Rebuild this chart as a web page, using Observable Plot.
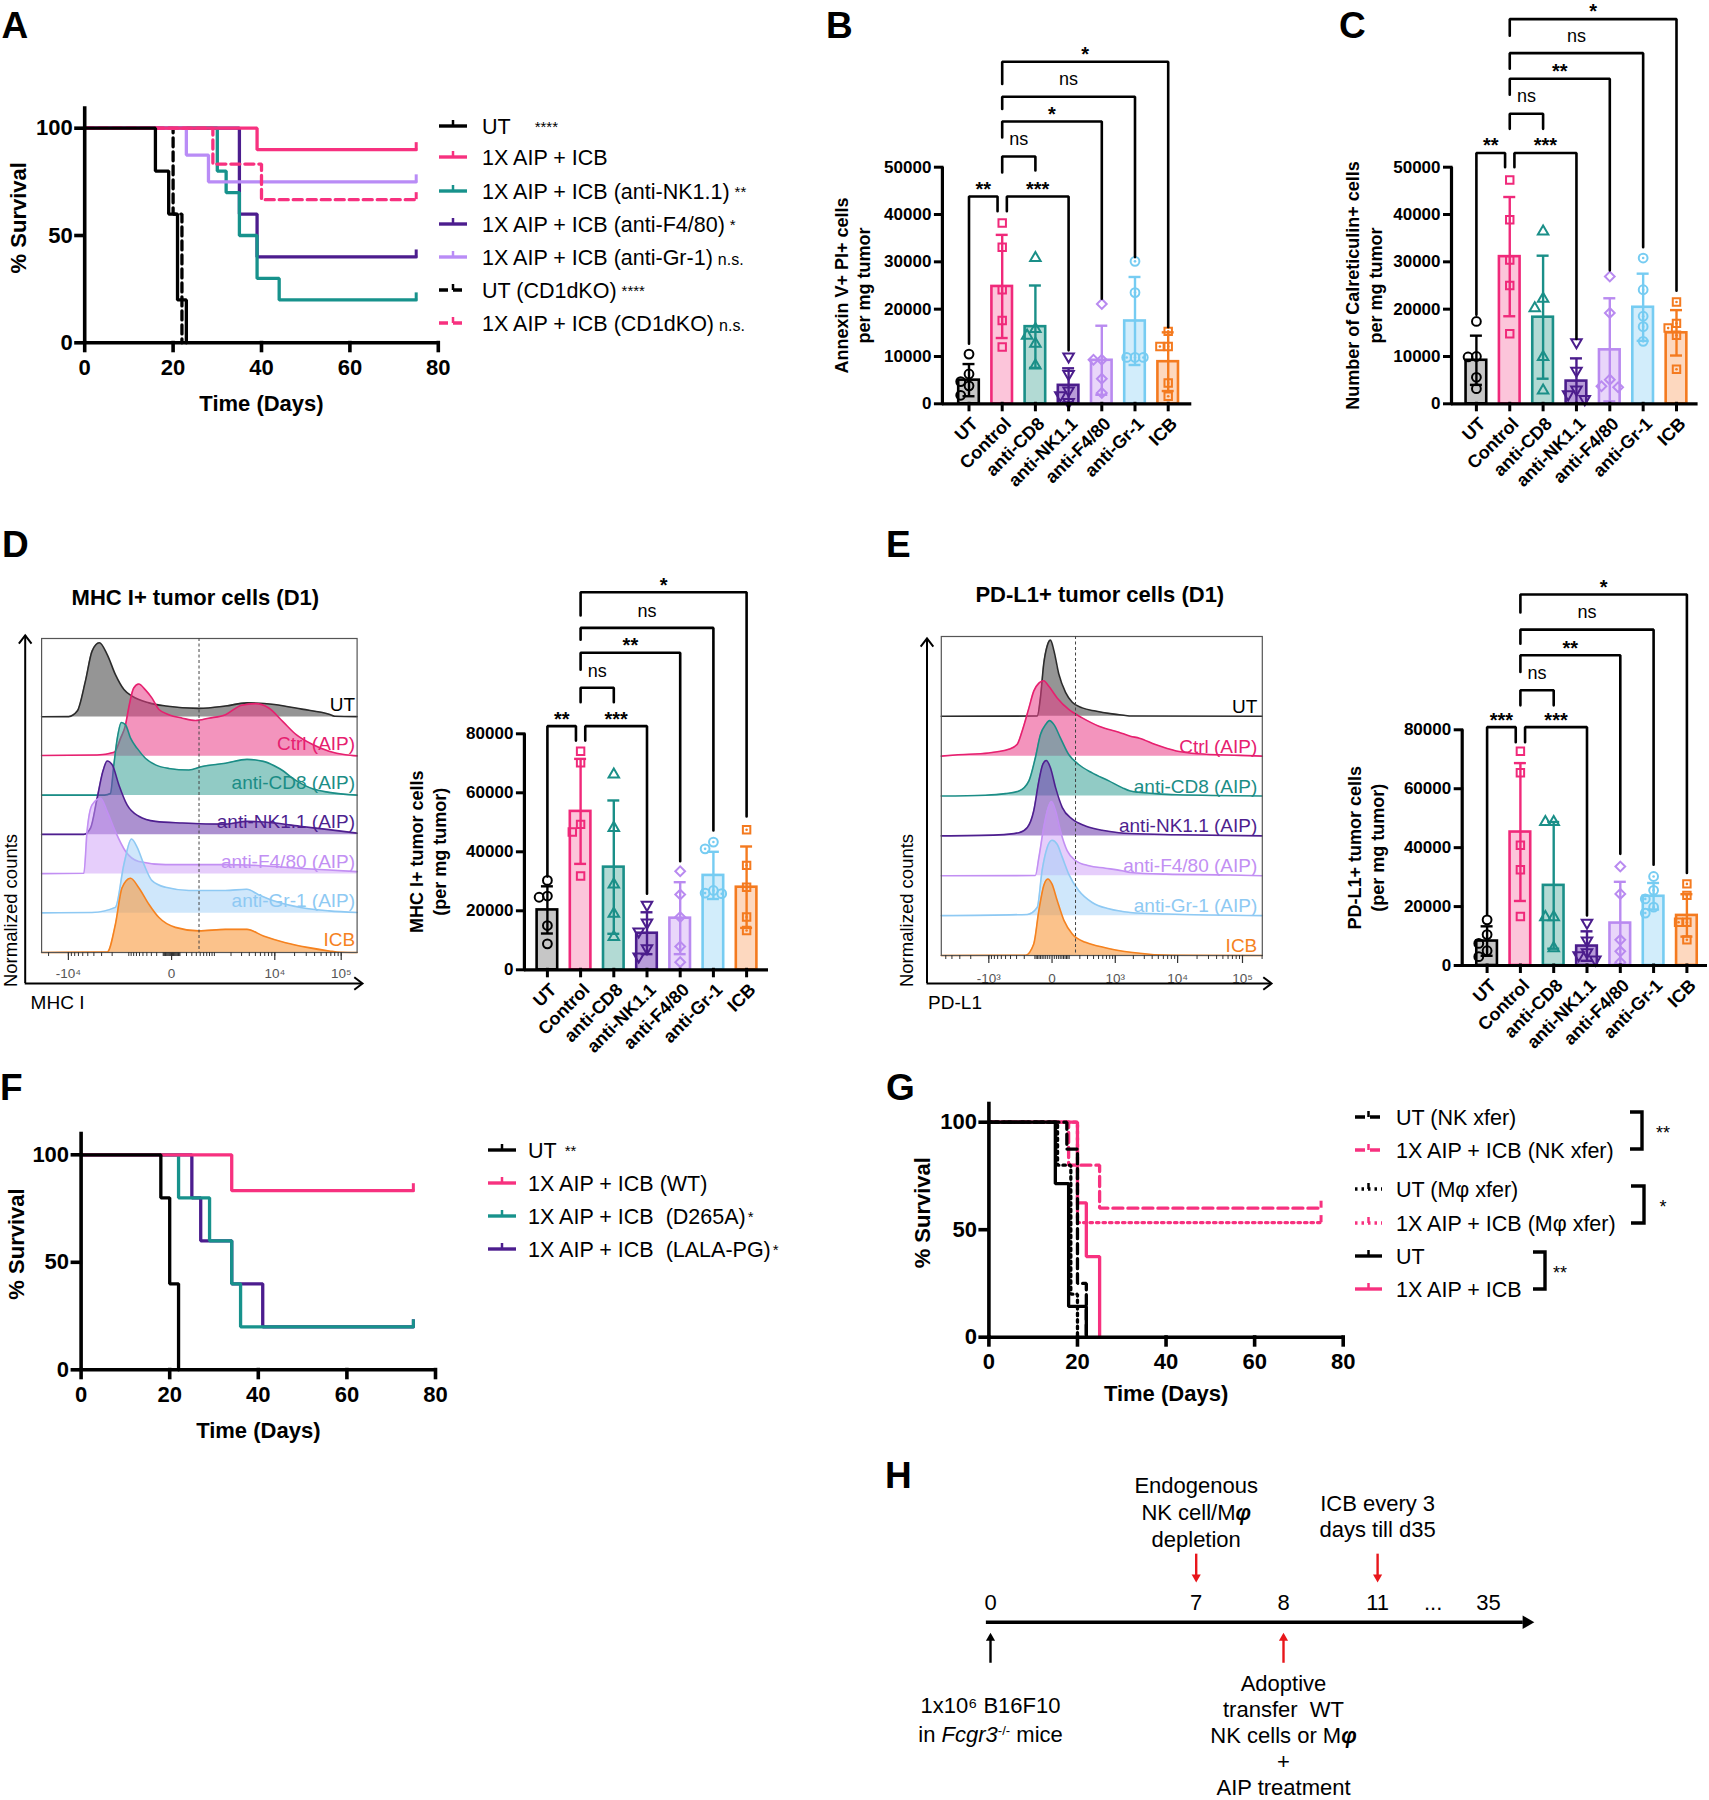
<!DOCTYPE html>
<html><head><meta charset="utf-8">
<script src="https://cdn.jsdelivr.net/npm/d3@7"></script>
<script src="https://cdn.jsdelivr.net/npm/@observablehq/plot@0.6"></script>
<style>
html,body{margin:0;padding:0;background:#fff;}
#fig{position:relative;width:1709px;height:1800px;overflow:hidden;background:#fff;font-family:"Liberation Sans",Arial,Helvetica,sans-serif;}
#fig svg{position:absolute;overflow:visible;background:transparent !important;max-width:none !important;}
</style></head>
<body><div id="fig"></div>
<script>
// ===================== DATA =====================
// Panel A – Kaplan–Meier steps [day, % survival]
const A_UT = [[0,100],[16,80],[19,60],[21,20],[23,0]];
const A_AIP = [[0,100],[39,90],[75,90]];
const A_NK = [[0,100],[30,80],[32,70],[35,50],[39,30],[44,20],[75,20]];
const A_F480 = [[0,100],[35,60],[39,40],[75,40]];
const A_GR1 = [[0,100],[23,87.5],[28,75],[75,75]];
const A_UT_CD1D = [[0,100],[20,60],[22,0]];
const A_AIP_CD1D = [[0,100],[29,83.3],[40,66.7],[75,66.7]];
const A_LABELS = ["UT","1X AIP + ICB","1X AIP + ICB (anti-NK1.1)","1X AIP + ICB (anti-F4/80)","1X AIP + ICB (anti-Gr-1)","UT (CD1dKO)","1X AIP + ICB (CD1dKO)"];
const A_SIG = ["****","","**","*","n.s.","****","n.s."];

// Panel F
const F_UT = [[0,100],[18,80],[20,40],[22,0]];
const F_WT = [[0,100],[34,83.3],[75,83.3]];
const F_D265A = [[0,100],[22,80],[29,60],[34,40],[36,20],[75,20]];
const F_LALA = [[0,100],[25,80],[27,60],[34,40],[41,20],[75,20]];
const F_LABELS = ["UT","1X AIP + ICB (WT)","1X AIP + ICB  (D265A)","1X AIP + ICB  (LALA-PG)"];
const F_SIG = ["**","","*","*"];

// Panel G
const G_UT_NK = [[0,100],[17.6,87.5],[20,25],[22,0]];
const G_AIP_NK = [[0,100],[18,80],[25,60],[75,60]];
const G_UT_M = [[0,100],[15.5,80],[18.5,20],[20,0]];
const G_AIP_M = [[0,100],[20,53.3],[75,53.3]];
const G_UT = [[0,100],[15,71.4],[18,14.3],[22,0]];
const G_AIP = [[0,100],[20,62.5],[22,37.5],[25,0]];
const G_LABELS = ["UT (NK xfer)","1X AIP + ICB (NK xfer)","UT (Mφ xfer)","1X AIP + ICB (Mφ xfer)","UT","1X AIP + ICB"];
const G_SIG = ["**","*","**"];

const KM_XTICKS = [0,20,40,60,80];
const KM_YTICKS = [0,50,100];

// Bar charts (B, C, D, E)
const CATS = ["UT","Control","anti-CD8","anti-NK1.1","anti-F4/80","anti-Gr-1","ICB"];
const BC_YTICKS = [0,10000,20000,30000,40000,50000];
const DE_YTICKS = [0,20000,40000,60000,80000];

const B_MEAN = [5000,24800,16300,3900,9200,17500,8900];
const B_SD = [3400,10900,8700,3600,7300,9300,6200];
const B_PTS = [[10500,6300,4700,3800,1800],[38200,33100,24100,17600,12000],[30800,15800,14400,12700,8100],[10000,6300,2800,1800,350],[21100,9300,9300,5300,2300],[30100,23500,9800,9800,9800],[15300,12100,12100,4400,1600]];
// [from, to, bracket level, from-leg end, to-leg end, label]
const B_SIGS = [[0,1,43800,12700,40700,"**"],[1,3,43800,40700,11300,"***"],[1,2,52250,48900,49300,"ns"],[1,4,59650,56300,22200,"*"],[1,5,64900,62300,31000,"ns"],[1,6,72300,67600,16200,"*"]];

const C_MEAN = [9200,31100,18300,4800,11400,20400,15000];
const C_SD = [5200,12600,13000,4800,10900,7100,4800];
const C_PTS = [[17400,10000,9900,5600,3200],[47300,38900,30400,25000,14800],[36400,22200,20200,9900,2800],[13000,7000,3000,2000,1000],[26900,19200,5100,3700,3500],[30800,24100,18500,16300,13200],[21500,17000,16000,14500,7300]];
const C_SIGS = [[0,1,53000,18800,50000,"**"],[1,3,53000,50000,13700,"***"],[1,2,61300,58100,58100,"ns"],[1,4,68700,65300,28200,"**"],[1,5,74100,70800,33100,"ns"],[1,6,81300,77800,23900,"*"]];

const D_MEAN = [20300,53700,34800,12400,17500,32000,28000];
const D_SD = [8000,17800,22600,7100,12200,8000,13800];
const D_PTS = [[30300,25000,24600,15000,8800],[74100,70200,49300,46700,31800],[66200,48100,28900,19000,11100],[22000,16000,13000,7300,4500],[33400,25500,17900,7900,2600],[43300,41000,26900,26000,25800],[47500,35400,28000,17900,13300]];
const D_SIGS = [[0,1,82600,31600,77700,"**"],[1,3,82600,77700,25800,"***"],[1,2,95600,90700,90700,"ns"],[1,4,107500,101700,36800,"**"],[1,5,115900,111900,47200,"ns"],[1,6,128000,120100,52000,"*"]];

const E_MEAN = [8300,45300,27200,6600,14400,23500,17000];
const E_SD = [5000,23400,21500,5000,14000,4500,7200];
const E_PTS = [[15500,10500,7500,5000,3000],[72700,65400,40800,32500,16600],[48700,48700,16400,16400,5900],[14500,8500,4500,3500,2000],[33600,24300,8700,4800,1100],[30200,25500,22600,19800,17800],[27700,23800,14700,14700,8700]];
const E_SIGS = [[0,1,80900,17300,75800,"***"],[1,3,80900,75800,17000,"***"],[1,2,93400,88300,88300,"ns"],[1,4,105300,99600,37900,"**"],[1,5,114000,109200,34200,"ns"],[1,6,125900,119800,31400,"*"]];

// Histograms: [channel (0–1000 across display), normalized height (row units)]
const HIST_LABELS = ["UT","Ctrl (AIP)","anti-CD8 (AIP)","anti-NK1.1 (AIP)","anti-F4/80 (AIP)","anti-Gr-1 (AIP)","ICB"];
const D_H_UT = [[0,0.005],[86,0.01],[113,0.15],[139,0.92],[160,1.68],[183,1.89],[208,1.59],[234,1.08],[261,0.7],[287,0.53],[340,0.36],[393,0.28],[498,0.22],[583,0.28],[651,0.36],[738,0.32],[825,0.2],[911,0.07],[929,0.02],[1000,0.01]];
const D_H_CTRL = [[0,0.02],[176,0.03],[230,0.1],[250,0.45],[266,0.8],[276,1.23],[292,1.74],[308,1.84],[329,1.69],[350,1.48],[372,1.19],[403,1.06],[446,0.97],[488,0.91],[530,0.97],[583,1.06],[634,1.3],[677,1.34],[720,1.23],[764,0.89],[807,0.55],[859,0.3],[911,0.13],[963,0.04],[1000,0.01]];
const D_H_CD8 = [[0,0.01],[200,0.01],[218,0.05],[229,0.78],[240,1.46],[253,1.86],[266,1.8],[282,1.46],[303,1.2],[329,0.95],[361,0.78],[403,0.69],[467,0.65],[509,0.74],[583,0.82],[651,0.92],[703,0.87],[755,0.68],[807,0.38],[859,0.17],[911,0.08],[1000,0.01]];
const D_H_NK = [[0,0.01],[134,0.01],[155,0.17],[176,0.93],[194,1.61],[208,1.88],[224,1.78],[245,1.27],[271,0.76],[308,0.47],[361,0.34],[446,0.3],[583,0.27],[651,0.34],[738,0.3],[825,0.21],[911,0.13],[1000,0.04]];
const D_H_F480 = [[0,0.01],[134,0.02],[144,1.08],[160,1.76],[187,1.93],[208,1.59],[234,1.08],[266,0.58],[308,0.32],[393,0.24],[498,0.24],[583,0.24],[651,0.23],[738,0.19],[825,0.14],[911,0.1],[1000,0.06]];
const D_H_GR1 = [[0,0.01],[160,0.02],[234,0.15],[261,1.25],[285,1.89],[303,1.68],[324,1.25],[350,0.83],[393,0.66],[467,0.58],[583,0.58],[651,0.61],[686,0.48],[738,0.31],[825,0.14],[911,0.06],[1000,0.02]];
const D_H_ICB = [[0,0],[208,0.01],[234,0.72],[255,1.65],[282,1.89],[308,1.65],[340,1.23],[372,0.89],[424,0.64],[498,0.55],[583,0.59],[651,0.59],[703,0.42],[773,0.25],[842,0.13],[911,0.04],[946,0.005],[1000,0]];
const D_H_TICKS = [-1e4,0,1e4,1e5];
const D_H_TICKLABELS = ["-10⁴","0","10⁴","10⁵"];

const E_H_UT = [[0,0],[299,0.005],[309,0.48],[319,1.31],[330,1.77],[340,1.91],[351,1.64],[366,1.06],[387,0.6],[408,0.35],[439,0.21],[480,0.13],[532,0.06],[574,0.02],[590,0.005],[1000,0]];
const E_H_CTRL = [[0,0],[44,0.03],[148,0.08],[210,0.17],[236,0.29],[252,0.63],[273,1.21],[288,1.63],[304,1.83],[319,1.89],[335,1.75],[361,1.46],[397,1.17],[439,0.96],[491,0.75],[553,0.6],[589,0.5],[617,0.45],[667,0.29],[732,0.13],[798,0.06],[929,0.02],[1000,0]];
const E_H_CD8 = [[0,0],[138,0.02],[200,0.06],[242,0.125],[273,0.38],[293,0.96],[309,1.54],[325,1.79],[337,1.89],[351,1.79],[371,1.46],[397,1.04],[428,0.79],[470,0.58],[522,0.38],[563,0.21],[589,0.125],[667,0.06],[732,0.03],[1000,0]];
const E_H_NK = [[0,0],[179,0.025],[242,0.08],[268,0.21],[288,0.63],[304,1.38],[316,1.79],[327,1.89],[340,1.71],[356,1.21],[377,0.71],[408,0.42],[449,0.25],[501,0.14],[553,0.08],[589,0.06],[732,0.03],[1000,0]];
const E_H_F480 = [[0,0],[293,0.005],[304,0.46],[319,1.21],[333,1.71],[343,1.86],[356,1.63],[371,1.13],[392,0.63],[418,0.38],[460,0.25],[511,0.19],[563,0.125],[589,0.08],[700,0.04],[900,0.02],[1000,0]];
const E_H_GR1 = [[0,0],[268,0.03],[299,0.21],[314,1.13],[330,1.71],[345,1.89],[361,1.79],[377,1.46],[397,1.04],[428,0.63],[470,0.33],[522,0.17],[589,0.08],[700,0.04],[1000,0]];
const E_H_ICB = [[0,0],[262,0.005],[288,0.29],[304,1.13],[319,1.75],[332,1.92],[345,1.79],[361,1.38],[382,0.88],[408,0.54],[449,0.33],[491,0.23],[543,0.14],[589,0.08],[716,0.005],[1000,0]];
const E_H_TICKS = [-1e3,0,1e3,1e4,1e5];
const E_H_TICKLABELS = ["-10³","0","10³","10⁴","10⁵"];

// Panel H – schedule
const H_DAYS = [0,7,8,11,35];
const H_DOWN = [7,11];
const H_UP_BLACK = [0];
const H_UP_RED = [8];
const H_TXT_DEPL = "Endogenous\nNK cell/Mφ\ndepletion";
const H_TXT_ICB = "ICB every 3\ndays till d35";
const H_TXT_TUMOR = "1x10⁶ B16F10\nin Fcgr3-/- mice";
const H_TXT_ADOPT = "Adoptive\ntransfer  WT\nNK cells or Mφ\n+\nAIP treatment";

// ===================== STYLE =====================
const FONT = '"Liberation Sans", Arial, Helvetica, sans-serif';
const PINK = "#f7317f", TEAL = "#17928c", DPURP = "#4c1d8e", LPURP = "#b98cf6", RED = "#e8161b";
const BAR_FILL = ["#c6c6c6","#fcc5da","#b2dad4","#b89cd9","#e9d6fa","#d2edfb","#fdd8bf"];
const BAR_STROKE = ["#000000","#f0297a","#1a8f88","#4b1d8c","#b98af0","#76ccf2","#f47a1f"];
const SYM = [{s:"circle",r:4.4},{s:"square",r:4.2},{s:"triangle",r:3.9},{s:"triangle",r:3.9,rot:180},{s:"diamond2",r:4.4},{s:"circle",r:4.4,inner:true},{s:"square",r:4.2,inner:true}];
const HIST_STROKE = ["#2b2b2b","#e6206f","#1b8d86","#4e1f8f","#c28ff3","#8ec9f3","#f5821f"];
const HIST_FILL = ["#777777","#ea3c86","#36a096","#7447b0","#cd9ef7","#9fd0f7","#f89a3e"];
const HIST_OP = [0.78,0.55,0.55,0.6,0.5,0.5,0.6];
const HIST_LABCOL = ["#000000","#e6206f","#1b8d86","#4e1f8f","#c28ff3","#8ec9f3","#f5821f"];

const fig = document.getElementById("fig");
function place(el, left, top) {
  el.style.position = "absolute";
  el.style.left = left + "px";
  el.style.top = top + "px";
  el.style.overflow = "visible";
  el.style.background = "transparent";
  fig.appendChild(el);
  return el;
}
const baseStyle = {fontFamily: FONT, fontSize: "16px", background: "transparent", overflow: "visible", color: "#000"};

// ===================== KM PLOTS =====================
function kmPlot(cfg, series) {
  const per = (cfg.y0px - cfg.y100px) / 100;
  const yTopPx = cfg.y0px - cfg.yTop * per;
  const marks = [];
  series.forEach(s => {
    marks.push(Plot.line(s.pts, {x: d => d[0], y: d => d[1], curve: "step-after", stroke: s.color, strokeWidth: 3.3, strokeDasharray: s.dash, strokeLinejoin: "miter"}));
    const last = s.pts[s.pts.length - 1];
    if (last[1] > 0) marks.push(Plot.ruleX([last], {x: d => d[0], y1: d => d[1], y2: d => d[1], insetTop: -7, insetBottom: 0, stroke: s.color, strokeWidth: 3}));
  });
  marks.push(Plot.ruleY([0], {x1: 0, x2: 80, stroke: "#000", strokeWidth: 3.6}));
  marks.push(Plot.ruleX([0], {y1: 0, y2: cfg.yTop, stroke: "#000", strokeWidth: 3.6}));
  marks.push(Plot.ruleX(KM_XTICKS, {y1: 0, y2: 0, insetTop: -1.5, insetBottom: -10, stroke: "#000", strokeWidth: 3.6}));
  marks.push(Plot.ruleY(KM_YTICKS, {x1: 0, x2: 0, insetLeft: -10, insetRight: -1.5, stroke: "#000", strokeWidth: 3.6}));
  marks.push(Plot.text(KM_XTICKS, {x: d => d, y: 0, dy: 25, text: d => String(d), fontSize: 22, fontWeight: "bold"}));
  marks.push(Plot.text(KM_YTICKS, {x: 0, y: d => d, dx: -12, textAnchor: "end", text: d => String(d), fontSize: 22, fontWeight: "bold"}));
  marks.push(Plot.text(["Time (Days)"], {frameAnchor: "bottom", dy: cfg.timeY - cfg.y0px, textAnchor: "middle", lineAnchor: "middle", fontSize: 22, fontWeight: "bold"}));
  marks.push(Plot.text(["% Survival"], {frameAnchor: "left", dx: cfg.survX - cfg.x0px, dy: -7, rotate: -90, textAnchor: "middle", lineAnchor: "middle", fontSize: 22, fontWeight: "bold"}));
  const svg = Plot.plot({
    width: cfg.width, height: cfg.height,
    marginLeft: cfg.x0px - cfg.left, marginRight: cfg.left + cfg.width - cfg.x80px,
    marginTop: yTopPx - cfg.top, marginBottom: cfg.top + cfg.height - cfg.y0px,
    x: {domain: [0, 80], axis: null}, y: {domain: [0, cfg.yTop], axis: null},
    style: baseStyle, marks
  });
  return place(svg, cfg.left, cfg.top);
}

kmPlot({left: 0, top: 60, width: 460, height: 380, x0px: 84.2, x80px: 437.8, y0px: 342.3, y100px: 127.7, yTop: 110, timeY: 403, survX: 18}, [
  {pts: A_UT_CD1D, color: "#000", dash: "9,5"},
  {pts: A_F480, color: DPURP},
  {pts: A_NK, color: TEAL},
  {pts: A_GR1, color: LPURP},
  {pts: A_AIP_CD1D, color: PINK, dash: "9,5"},
  {pts: A_AIP, color: PINK},
  {pts: A_UT, color: "#000"}
]);
kmPlot({left: 0, top: 1100, width: 460, height: 360, x0px: 80.6, x80px: 435, y0px: 1369.3, y100px: 1154.3, yTop: 110.5, timeY: 1430, survX: 16.5}, [
  {pts: F_LALA, color: DPURP},
  {pts: F_D265A, color: TEAL},
  {pts: F_WT, color: PINK},
  {pts: F_UT, color: "#000"}
]);
kmPlot({left: 900, top: 1080, width: 460, height: 340, x0px: 988.4, x80px: 1342.7, y0px: 1336.7, y100px: 1121.7, yTop: 109.3, timeY: 1393, survX: 922.3}, [
  {pts: G_AIP_M, color: PINK, dash: "2.5,4"},
  {pts: G_AIP_NK, color: PINK, dash: "10,5"},
  {pts: G_AIP, color: PINK},
  {pts: G_UT_M, color: "#000", dash: "2.5,4"},
  {pts: G_UT_NK, color: "#000", dash: "10,5"},
  {pts: G_UT, color: "#000"}
]);

// ===================== BAR PLOTS =====================
function spread(vals, pxPerUnit) {
  const order = vals.map((_, j) => j).sort((a, b) => vals[b] - vals[a]);
  const placed = [], offs = vals.map(() => 0);
  for (const j of order) {
    let chosen = 0;
    for (const o of [0, -0.25, 0.25]) {
      if (placed.every(p => Math.abs(p.o - o) >= 0.24 || Math.abs(p.v - vals[j]) * pxPerUnit >= 9.5)) { chosen = o; break; }
    }
    offs[j] = chosen; placed.push({o: chosen, v: vals[j]});
  }
  return offs;
}

function barPlot(cfg, means, sds, pts, sigs) {
  const xDom = [(cfg.axisX - cfg.i0x) / cfg.step, (cfg.axisRight - cfg.i0x) / cfg.step];
  const pxPerUnit = (cfg.y0 - cfg.yTopPx) / cfg.yMax;
  const idx = CATS.map((_, i) => i);
  const bars = idx.map(i => ({i, mean: means[i], sd: sds[i]}));
  const marks = [];
  marks.push(Plot.rect(bars, {x1: d => d.i - 0.31, x2: d => d.i + 0.31, y1: 0, y2: d => d.mean, fill: d => BAR_FILL[d.i], stroke: d => BAR_STROKE[d.i], strokeWidth: 2.6}));
  marks.push(Plot.ruleX(bars, {x: "i", y1: d => Math.max(0, d.mean - d.sd), y2: d => d.mean + d.sd, stroke: d => BAR_STROKE[d.i], strokeWidth: 2.4}));
  marks.push(Plot.ruleY(bars, {y: d => d.mean + d.sd, x1: d => d.i - 0.18, x2: d => d.i + 0.18, stroke: d => BAR_STROKE[d.i], strokeWidth: 2.4}));
  marks.push(Plot.ruleY(bars.filter(d => d.mean - d.sd > 0), {y: d => d.mean - d.sd, x1: d => d.i - 0.18, x2: d => d.i + 0.18, stroke: d => BAR_STROKE[d.i], strokeWidth: 2.4}));
  idx.forEach(i => {
    const offs = spread(pts[i], pxPerUnit);
    const data = pts[i].map((v, j) => ({x: i + offs[j], v}));
    const sy = SYM[i];
    marks.push(Plot.dot(data, {x: "x", y: "v", symbol: sy.s, r: sy.r, rotate: sy.rot || 0, stroke: BAR_STROKE[i], strokeWidth: 2, fill: "none"}));
    if (sy.inner) marks.push(Plot.dot(data, {x: "x", y: "v", r: 1.3, fill: BAR_STROKE[i]}));
  });
  // axes
  marks.push(Plot.ruleY([0], {x1: xDom[0], x2: xDom[1], stroke: "#000", strokeWidth: 3.2}));
  marks.push(Plot.ruleX([xDom[0]], {y1: 0, y2: cfg.yMax, stroke: "#000", strokeWidth: 3.2}));
  marks.push(Plot.ruleY(cfg.yTicks, {x1: xDom[0], x2: xDom[0], insetLeft: -8, insetRight: -1.5, stroke: "#000", strokeWidth: 3}));
  marks.push(Plot.ruleX(idx, {y1: 0, y2: 0, insetTop: -1.5, insetBottom: -8, stroke: "#000", strokeWidth: 3}));
  marks.push(Plot.text(cfg.yTicks, {x: xDom[0], y: d => d, dx: -11, textAnchor: "end", text: d => String(d), fontSize: 17, fontWeight: "bold"}));
  marks.push(Plot.text(CATS, {x: (d, i) => i, y: 0, dx: 6, dy: 17, rotate: -45, textAnchor: "end", fontSize: 18, fontWeight: "bold"}));
  marks.push(Plot.text([cfg.yLabel], {frameAnchor: "left", dx: cfg.yLabelX - cfg.axisX, rotate: -90, textAnchor: "middle", lineAnchor: "middle", fontSize: 18, fontWeight: "bold", lineHeight: 1.26}));
  // significance brackets
  const low = (sigs.find(s => s[1] === 1) || [])[2];
  const ends = s => [s[1] === 1 ? s[0] : (s[0] === 1 && s[2] === low ? 1.14 : s[0]), s[1] === 1 ? 0.86 : s[1]];
  const br = [];
  sigs.forEach((s, k) => {
    const [xa, xb] = ends(s);
    br.push({k, x: xa, y: s[3]}, {k, x: xa, y: s[2]}, {k, x: xb, y: s[2]}, {k, x: xb, y: s[4]});
  });
  marks.push(Plot.line(br, {x: "x", y: "y", z: "k", stroke: "#000", strokeWidth: 2.6, strokeLinejoin: "miter"}));
  const stars = sigs.filter(s => s[5] !== "ns"), ns = sigs.filter(s => s[5] === "ns");
  marks.push(Plot.text(stars, {x: s => (ends(s)[0] + ends(s)[1]) / 2, y: s => s[2], text: s => s[5], dy: -7, fontSize: 20, fontWeight: "bold"}));
  marks.push(Plot.text(ns, {x: s => (ends(s)[0] + ends(s)[1]) / 2, y: s => s[2], text: s => s[5], dy: -17, fontSize: 18}));
  const svg = Plot.plot({
    width: cfg.width, height: cfg.height,
    marginLeft: cfg.axisX - cfg.left, marginRight: cfg.left + cfg.width - cfg.axisRight,
    marginTop: cfg.yTopPx - cfg.top, marginBottom: cfg.top + cfg.height - cfg.y0,
    x: {domain: xDom, axis: null}, y: {domain: [0, cfg.yMax], axis: null},
    style: baseStyle, marks
  });
  return place(svg, cfg.left, cfg.top);
}

barPlot({left: 820, top: 0, width: 390, height: 500, axisX: 941.9, axisRight: 1191.3, i0x: 968.5, step: 33.2, y0: 403.3, yTopPx: 166.7, yMax: 50000, yTicks: BC_YTICKS, yLabel: "Annexin V+ PI+ cells\nper mg tumor", yLabelX: 851.2}, B_MEAN, B_SD, B_PTS, B_SIGS);
barPlot({left: 1200, top: 0, width: 509, height: 500, axisX: 1451, axisRight: 1697.6, i0x: 1475.9, step: 33.35, y0: 403.3, yTopPx: 166.7, yMax: 50000, yTicks: BC_YTICKS, yLabel: "Number of Calreticulin+ cells\nper mg tumor", yLabelX: 1362.8}, C_MEAN, C_SD, C_PTS, C_SIGS);
barPlot({left: 380, top: 520, width: 400, height: 540, axisX: 523.9, axisRight: 768, i0x: 546.9, step: 33.2, y0: 969.3, yTopPx: 733.3, yMax: 80000, yTicks: DE_YTICKS, yLabel: "MHC I+ tumor cells\n(per mg tumor)", yLabelX: 426.5}, D_MEAN, D_SD, D_PTS, D_SIGS);
barPlot({left: 1290, top: 520, width: 419, height: 540, axisX: 1461.7, axisRight: 1707, i0x: 1486.6, step: 33.3, y0: 965, yTopPx: 729.3, yMax: 80000, yTicks: DE_YTICKS, yLabel: "PD-L1+ tumor cells\n(per mg tumor)", yLabelX: 1364.7}, E_MEAN, E_SD, E_PTS, E_SIGS);

// ===================== HISTOGRAMS =====================
const chevron = {draw(ctx, size) { const s = Math.sqrt(size) / 1.4; ctx.moveTo(-s, s * 1.3); ctx.lineTo(0, 0); ctx.lineTo(s, s * 1.3); }};
function histPlot(cfg, rows, ticks, tickLabels, title, xLabel) {
  const toCh = v => cfg.c0 + Math.sign(v) * cfg.k * Math.log1p(Math.abs(v) / cfg.c);
  const marks = [];
  rows.forEach((pts, r) => {
    const base = 6 - r;
    marks.push(Plot.areaY(pts, {x: d => d[0], y1: base, y2: d => base + d[1], curve: "monotone-x", fill: HIST_FILL[r], fillOpacity: HIST_OP[r]}));
    marks.push(Plot.line(pts, {x: d => d[0], y: d => base + d[1], curve: "monotone-x", stroke: HIST_STROKE[r], strokeWidth: 1.6}));
  });
  marks.push(Plot.frame({stroke: "#555", strokeWidth: 1.2}));
  marks.push(Plot.ruleX([toCh(cfg.gate)], {stroke: "#444", strokeWidth: 1, strokeDasharray: "3,2.5"}));
  // log-like ticks
  const minors = [];
  for (let e = 1; e <= 5; e++) for (let m = 1; m <= 9; m++) { minors.push(m * 10 ** e, -m * 10 ** e); }
  const minorCh = minors.map(toCh).filter(c => c > 0 && c < 1000);
  marks.push(Plot.ruleX(minorCh, {y1: 0, y2: 0, insetBottom: -4, stroke: "#333", strokeWidth: 1}));
  marks.push(Plot.ruleX(ticks.map(toCh), {y1: 0, y2: 0, insetBottom: -8, stroke: "#333", strokeWidth: 1.2}));
  marks.push(Plot.text(ticks, {x: toCh, y: 0, dy: cfg.tickDy, text: (d, i) => tickLabels[i], fontSize: 13.5, fill: "#555"}));
  marks.push(Plot.text(HIST_LABELS, {x: 1000, y: (d, i) => 6 - i, dx: cfg.labDx, dy: cfg.labDy, textAnchor: "end", fill: (d, i) => HIST_LABCOL[i], fontSize: 19}));
  // arrow axes
  marks.push(Plot.ruleX([0], {dx: cfg.arrowX, insetTop: cfg.arrowTop, insetBottom: -cfg.arrowDrop, stroke: "#000", strokeWidth: 2}));
  marks.push(Plot.ruleY([0], {dy: cfg.arrowDrop, insetLeft: cfg.arrowX, insetRight: -cfg.arrowRight, stroke: "#000", strokeWidth: 2}));
  marks.push(Plot.dot([0], {x: 0, y: 8, dx: cfg.arrowX, dy: cfg.arrowTop, symbol: chevron, r: 5, stroke: "#000", strokeWidth: 2, fill: "none"}));
  marks.push(Plot.dot([0], {x: 1000, y: 0, dx: cfg.arrowRight, dy: cfg.arrowDrop, symbol: chevron, rotate: 90, r: 5, stroke: "#000", strokeWidth: 2, fill: "none"}));
  marks.push(Plot.text(["Normalized counts"], {frameAnchor: "left", dx: cfg.ncX, dy: cfg.ncDy, rotate: -90, textAnchor: "middle", lineAnchor: "middle", fontSize: 18.5}));
  marks.push(Plot.text([xLabel], {frameAnchor: "bottom-left", dx: cfg.xlX, dy: cfg.xlDy, textAnchor: "start", lineAnchor: "middle", fontSize: 19}));
  marks.push(Plot.text([title], {frameAnchor: "top", dx: cfg.titleDx, dy: cfg.titleDy, textAnchor: "middle", lineAnchor: "middle", fontSize: 22, fontWeight: "bold"}));
  const svg = Plot.plot({
    width: cfg.width, height: cfg.height,
    marginLeft: cfg.boxL - cfg.left, marginRight: cfg.left + cfg.width - cfg.boxR,
    marginTop: cfg.boxT - cfg.top, marginBottom: cfg.top + cfg.height - cfg.boxB,
    x: {domain: [0, 1000], axis: null}, y: {domain: [0, 8], axis: null},
    style: baseStyle, marks
  });
  return place(svg, cfg.left, cfg.top);
}
histPlot({left: 0, top: 570, width: 380, height: 450, boxL: 41.1, boxR: 356.6, boxT: 638, boxB: 952,
  c0: 412, k: 92.5, c: 300, gate: 468, tickDy: 21, labDx: -2, labDy: -12.5,
  arrowX: -16.4, arrowTop: -3, arrowDrop: 31, arrowRight: 5.4, ncX: -30.5, ncDy: 115, xlX: -11, xlDy: 50, titleDx: -4, titleDy: -41},
  [D_H_UT, D_H_CTRL, D_H_CD8, D_H_NK, D_H_F480, D_H_GR1, D_H_ICB], D_H_TICKS, D_H_TICKLABELS, "MHC I+ tumor cells (D1)", "MHC I");
histPlot({left: 880, top: 570, width: 400, height: 450, boxL: 940.8, boxR: 1261.8, boxT: 636, boxB: 955,
  c0: 345, k: 88.2, c: 120, gate: 155, tickDy: 23, labDx: -5, labDy: -9.5,
  arrowX: -14.3, arrowTop: 2, arrowDrop: 28, arrowRight: 9.2, ncX: -34.4, ncDy: 114.5, xlX: -13.2, xlDy: 47, titleDx: -2, titleDy: -42},
  [E_H_UT, E_H_CTRL, E_H_CD8, E_H_NK, E_H_F480, E_H_GR1, E_H_ICB], E_H_TICKS, E_H_TICKLABELS, "PD-L1+ tumor cells (D1)", "PD-L1");

// ===================== PANEL H =====================
(function () {
  const marks = [];
  marks.push(Plot.ruleY([0], {x1: -0.14, x2: 42.5, stroke: "#000", strokeWidth: 3.4}));
  marks.push(Plot.dot([43.2], {x: d => d, y: 0, symbol: "triangle", rotate: 90, r: 5, fill: "#000"}));
  marks.push(Plot.text(H_DAYS, {x: d => d, y: 0, dy: -19, text: d => String(d), fontSize: 22}));
  marks.push(Plot.text(["..."], {x: (H_DAYS[3] + H_DAYS[4]) / 2, y: 0, dy: -19, fontSize: 22}));
  marks.push(Plot.link(H_DOWN, {x1: d => d, x2: d => d, y1: 2.54, y2: 1.75, stroke: RED, strokeWidth: 2.4}));
  marks.push(Plot.dot(H_DOWN, {x: d => d, y: 1.67, symbol: "triangle", rotate: 180, r: 3.4, fill: RED}));
  marks.push(Plot.link(H_UP_BLACK, {x1: d => d, x2: d => d, y1: -1.5, y2: -0.6, stroke: "#000", strokeWidth: 2.4}));
  marks.push(Plot.dot(H_UP_BLACK, {x: d => d, y: -0.585, symbol: "triangle", r: 3.4, fill: "#000"}));
  marks.push(Plot.link(H_UP_RED, {x1: d => d, x2: d => d, y1: -1.5, y2: -0.6, stroke: RED, strokeWidth: 2.4}));
  marks.push(Plot.dot(H_UP_RED, {x: d => d, y: -0.585, symbol: "triangle", r: 3.4, fill: RED}));
  marks.push(Plot.text([H_TXT_DEPL], {x: H_DOWN[0], y: 4.1, lineHeight: 1.23, fontSize: 22}));
  marks.push(Plot.text([H_TXT_ICB], {x: H_DOWN[1], y: 3.95, lineHeight: 1.18, fontSize: 22}));
  marks.push(Plot.text([H_TXT_TUMOR], {x: H_UP_BLACK[0], y: -3.55, lineHeight: 1.32, fontSize: 22}));
  marks.push(Plot.text([H_TXT_ADOPT], {x: H_UP_RED[0], y: -4.17, lineHeight: 1.18, fontSize: 22}));
  const svg = Plot.plot({
    width: 829, height: 360, marginLeft: 0, marginRight: 0, marginTop: 0, marginBottom: 0,
    x: {type: "linear", domain: H_DAYS, range: [110, 315.7, 403, 497.1, 608.1], axis: null},
    y: {domain: [-6.6, 6.73], axis: null},
    style: baseStyle, marks
  });
  place(svg, 880, 1440);
  const NS = "http://www.w3.org/2000/svg";
  const addT = (el, s, attrs) => { const t = document.createElementNS(NS, "tspan"); t.textContent = s; for (const a in attrs) t.setAttribute(a, attrs[a]); el.appendChild(t); };
  svg.querySelectorAll("text, tspan").forEach(el => {
    if (el.children.length) return;
    const t = el.textContent;
    if (t.includes("Fcgr3-/-")) {
      el.textContent = "";
      addT(el, "in ", {}); addT(el, "Fcgr3", {"font-style": "italic"});
      addT(el, "-/-", {"baseline-shift": "super", "font-size": "60%"}); addT(el, " mice", {});
    } else if (t.includes("φ")) {
      const [a, b] = t.split("φ");
      el.textContent = "";
      addT(el, a, {}); addT(el, "φ", {"font-style": "italic", "font-weight": "bold"}); if (b) addT(el, b, {});
    }
  });
})();

// ===================== OVERLAY: letters, legends =====================
const ov = d3.select(fig).append("svg").attr("width", 1709).attr("height", 1800)
  .style("left", "0px").style("top", "0px").style("pointer-events", "none")
  .style("font-family", FONT);
[["A", 1.5, 38.3], ["B", 826, 37.5], ["C", 1339, 37.5], ["D", 2, 557.3], ["E", 886, 557.3], ["F", 0, 1100], ["G", 886, 1100], ["H", 885, 1488.3]]
  .forEach(([t, x, y]) => ov.append("text").attr("x", x).attr("y", y).attr("font-size", 37).attr("font-weight", "bold").text(t));

function legend(rows, x0, x1, xt, ys) {
  rows.forEach((r, i) => {
    const y = ys[i];
    ov.append("line").attr("x1", x0).attr("x2", x1).attr("y1", y).attr("y2", y)
      .attr("stroke", r.color).attr("stroke-width", 3.4).attr("stroke-dasharray", r.dash || null);
    ov.append("line").attr("x1", (x0 + x1) / 2).attr("x2", (x0 + x1) / 2).attr("y1", y - 6).attr("y2", y)
      .attr("stroke", r.color).attr("stroke-width", 2.5);
    const t = ov.append("text").attr("x", xt).attr("y", y).attr("dy", "0.36em").attr("font-size", 21.5)
      .style("white-space", "pre").text(r.label);
    if (r.sig) {
      const ns = r.sig === "n.s.";
      t.append("tspan").attr("dx", r.gap || 5).attr("font-size", ns ? 16 : 15)
        .attr("dy", ns ? "0" : "-0.1em").text(r.sig);
    }
  });
}
legend([
  {label: A_LABELS[0], sig: A_SIG[0], color: "#000", gap: 24},
  {label: A_LABELS[1], sig: A_SIG[1], color: PINK},
  {label: A_LABELS[2], sig: A_SIG[2], color: TEAL},
  {label: A_LABELS[3], sig: A_SIG[3], color: DPURP},
  {label: A_LABELS[4], sig: A_SIG[4], color: LPURP},
  {label: A_LABELS[5], sig: A_SIG[5], color: "#000", dash: "9,5"},
  {label: A_LABELS[6], sig: A_SIG[6], color: PINK, dash: "9,5"}
], 439, 467, 482, [126, 157, 191, 224, 257, 290, 323]);
legend([
  {label: F_LABELS[0], sig: F_SIG[0], color: "#000", gap: 8},
  {label: F_LABELS[1], sig: F_SIG[1], color: PINK},
  {label: F_LABELS[2], sig: F_SIG[2], color: TEAL, gap: 2},
  {label: F_LABELS[3], sig: F_SIG[3], color: DPURP, gap: 2}
], 488, 516, 528, [1150, 1183, 1216, 1249]);
legend([
  {label: G_LABELS[0], color: "#000", dash: "10,5"},
  {label: G_LABELS[1], color: PINK, dash: "10,5"},
  {label: G_LABELS[2], color: "#000", dash: "2.5,4"},
  {label: G_LABELS[3], color: PINK, dash: "2.5,4"},
  {label: G_LABELS[4], color: "#000"},
  {label: G_LABELS[5], color: PINK}
], 1355, 1382, 1396, [1117, 1150, 1189, 1223, 1256, 1289]);
// G comparison brackets
[[1630, 1642, 1112, 1149, 1663, G_SIG[0]], [1631, 1644, 1186, 1223, 1663, G_SIG[1]], [1533, 1545, 1252, 1289, 1560, G_SIG[2]]]
  .forEach(([xa, xb, ya, yb, xs, s]) => {
    ov.append("path").attr("d", `M${xa},${ya}H${xb}V${yb}H${xa}`).attr("fill", "none").attr("stroke", "#000").attr("stroke-width", 3.4);
    ov.append("text").attr("x", xs).attr("y", (ya + yb) / 2).attr("dy", "0.45em").attr("text-anchor", "middle").attr("font-size", 18).text(s);
  });
</script></body></html>
